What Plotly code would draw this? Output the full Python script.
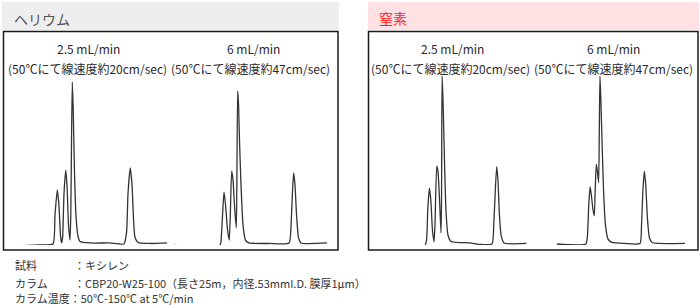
import plotly.graph_objects as go

# ---------------- data ----------------
panel_titles = ["ヘリウム", "窒素"]
flow_labels = ["2.5 mL/min", "6 mL/min", "2.5 mL/min", "6 mL/min"]
speed_labels = ["(50℃にて線速度約20cm/sec)", "(50℃にて線速度約47cm/sec)",
                "(50℃にて線速度約20cm/sec)", "(50℃にて線速度約47cm/sec)"]

# He, 2.5 mL/min : retention time (min) / signal (relative)
he25_t = [0, 1.64, 2.50, 2.63, 2.78, 2.89, 2.99, 3.06, 3.13, 3.22, 3.34, 3.42, 3.52, 3.62,
          3.67, 3.72, 3.77, 3.83, 3.91, 4.01, 4.14, 4.28, 4.93, 6.25, 7.17, 7.34, 7.43,
          7.58, 7.70, 7.80, 7.89, 8.09, 8.88, 10]
he25_s = [-0.5, 0, 0.6, 17.6, 32.4, 23.5, 5.9, 1.2, 4.1, 29.4, 44.1, 35.3, 11.8, 2.9,
          17.6, 61.8, 95.9, 79.4, 44.1, 17.6, 5.3, 2.1, 1.2, 1.2, 0.6, 7.6, 29.4,
          45.3, 35.3, 14.7, 4.7, 1.5, 0.9, 1.2]

# He, 6 mL/min
he6_t = [0, 3.01, 3.10, 3.19, 3.27, 3.37, 3.50, 3.61, 3.68, 3.77, 3.86, 3.95, 4.07, 4.11,
         4.16, 4.22, 4.28, 4.38, 4.51, 4.67, 4.90, 6.27, 7.52, 7.65, 7.75, 7.82, 7.91,
         8.01, 8.14, 8.30, 10]
he6_s = [-0.3, 0, 5.9, 20.6, 31.2, 23.5, 8.8, 2.9, 17.6, 43.5, 38.2, 23.5, 10.0, 38.2,
         90.6, 82.4, 61.8, 35.3, 11.8, 2.9, 1.2, 0.9, 1.2, 11.8, 32.4, 42.4, 35.3,
         17.6, 4.1, 1.2, 1.2]

# N2, 2.5 mL/min
n25_t = [0, 2.39, 2.51, 2.60, 2.72, 2.83, 2.95, 3.07, 3.14, 3.27, 3.37, 3.48, 3.59, 3.63,
         3.67, 3.74, 3.85, 3.96, 4.11, 4.34, 5.76, 6.51, 7.40, 7.55, 7.75, 7.85, 7.96,
         8.08, 8.30, 10]
n25_s = [-0.6, -0.3, 2.9, 20.6, 33.5, 26.5, 8.8, 1.9, 11.8, 46.5, 42.9, 26.5, 7.1, 26.5,
         99.4, 85.3, 50.0, 20.6, 5.9, 2.1, 1.2, 0.3, 0.6, 14.7, 46.1, 38.2, 17.6,
         5.9, 1.2, 0.9]

# N2, 6 mL/min
n6_t = [0, 2.28, 2.40, 2.50, 2.60, 2.70, 2.83, 2.93, 3.00, 3.09, 3.18, 3.27, 3.32, 3.37,
        3.43, 3.53, 3.65, 3.80, 4.00, 4.31, 5.32, 6.49, 6.61, 6.72, 6.83, 6.94, 7.08,
        7.23, 7.43, 10]
n6_s = [0.6, 0.6, 5.9, 23.5, 34.3, 29.4, 20.6, 17.1, 32.4, 47.6, 42.9, 36.6, 67.6, 99.4,
        88.2, 61.8, 32.4, 11.8, 3.5, 1.5, 0.9, 0.9, 11.8, 32.4, 43.5, 35.3, 14.7,
        4.1, 1.5, 0.9]

cond_labels = ["試料", "カラム", "カラム温度：50℃-150℃ at 5℃/min"]
cond_values = ["：キシレン", "：CBP20-W25-100（長さ25m，内径.53mmI.D. 膜厚1μm）", ""]

traces_t = [he25_t, he6_t, n25_t, n6_t]
traces_s = [he25_s, he6_s, n25_s, n6_s]

# ---------------- layout helpers ----------------
W, H = 700, 305
def px(x):
    return x / W
def py(y):
    return 1 - y / H

FONT = "Noto Sans CJK JP, Noto Sans, sans-serif"

fig = go.Figure()

# horizontal placement of each chromatogram (pixels)
x_dom = [(15, 167), (174, 327), (393, 526.7), (556.7, 685)]
y_dom = [py(245), py(75)]

for i, (t, s) in enumerate(zip(traces_t, traces_s)):
    n = "" if i == 0 else str(i + 1)
    fig.add_trace(go.Scatter(x=t, y=s, mode="lines",
                             line=dict(color="#333333", width=1.3, shape="spline",
                                       smoothing=0.5),
                             xaxis="x" + n, yaxis="y" + n,
                             hoverinfo="skip", showlegend=False))
    fig.layout["xaxis" + n] = dict(domain=[px(x_dom[i][0]), px(x_dom[i][1])],
                                   range=[0, 10], visible=False, anchor="y" + n,
                                   fixedrange=True)
    fig.layout["yaxis" + n] = dict(domain=y_dom, range=[0, 100], visible=False,
                                   anchor="x" + n, fixedrange=True)

shapes = [
    # header bars
    dict(type="rect", xref="paper", yref="paper", x0=px(2), x1=px(339),
         y0=py(30), y1=py(2), fillcolor="#eeeeee", line=dict(width=0), layer="below"),
    dict(type="rect", xref="paper", yref="paper", x0=px(368), x1=px(699),
         y0=py(30), y1=py(2), fillcolor="#ffe1e4", line=dict(width=0), layer="below"),
    # panel boxes
    dict(type="rect", xref="paper", yref="paper", x0=px(3.5), x1=px(338),
         y0=py(250), y1=py(31.5), line=dict(color="#1a1a1a", width=1.5)),
    dict(type="rect", xref="paper", yref="paper", x0=px(368.5), x1=px(698),
         y0=py(250), y1=py(31.5), line=dict(color="#1a1a1a", width=1.5)),
]

ann = []
ann.append(dict(text=panel_titles[0], x=px(12), y=py(19), xanchor="left", yanchor="middle",
                font=dict(size=14, color="#555555", family=FONT)))
ann.append(dict(text=panel_titles[1], x=px(377), y=py(18), xanchor="left", yanchor="middle",
                font=dict(size=14, color="#ff2020", family=FONT)))

flow_x = [88, 253, 452, 613]
speed_x = [87, 250, 451, 613]
for i in range(4):
    ann.append(dict(text=flow_labels[i], x=px(flow_x[i]), y=py(48), xanchor="center",
                    yanchor="middle", font=dict(size=12, color="#2a2a2a", family=FONT)))
    ann.append(dict(text=speed_labels[i], x=px(speed_x[i]), y=py(69), xanchor="center",
                    yanchor="middle", font=dict(size=12, color="#2a2a2a", family=FONT)))

cond_y = [265, 283, 298]
for i in range(3):
    ann.append(dict(text=cond_labels[i], x=px(13), y=py(cond_y[i]), xanchor="left",
                    yanchor="middle", font=dict(size=11, color="#333333", family=FONT)))
    if cond_values[i]:
        ann.append(dict(text=cond_values[i], x=px(72), y=py(cond_y[i]), xanchor="left",
                        yanchor="middle", font=dict(size=11, color="#333333", family=FONT)))

for a in ann:
    a.update(xref="paper", yref="paper", showarrow=False)

fig.update_layout(width=W, height=H, margin=dict(l=0, r=0, t=0, b=0),
                  paper_bgcolor="white", plot_bgcolor="rgba(0,0,0,0)",
                  shapes=shapes, annotations=ann, showlegend=False,
                  hovermode=False)

fig.write_html("out.html", config={"displayModeBar": False})
